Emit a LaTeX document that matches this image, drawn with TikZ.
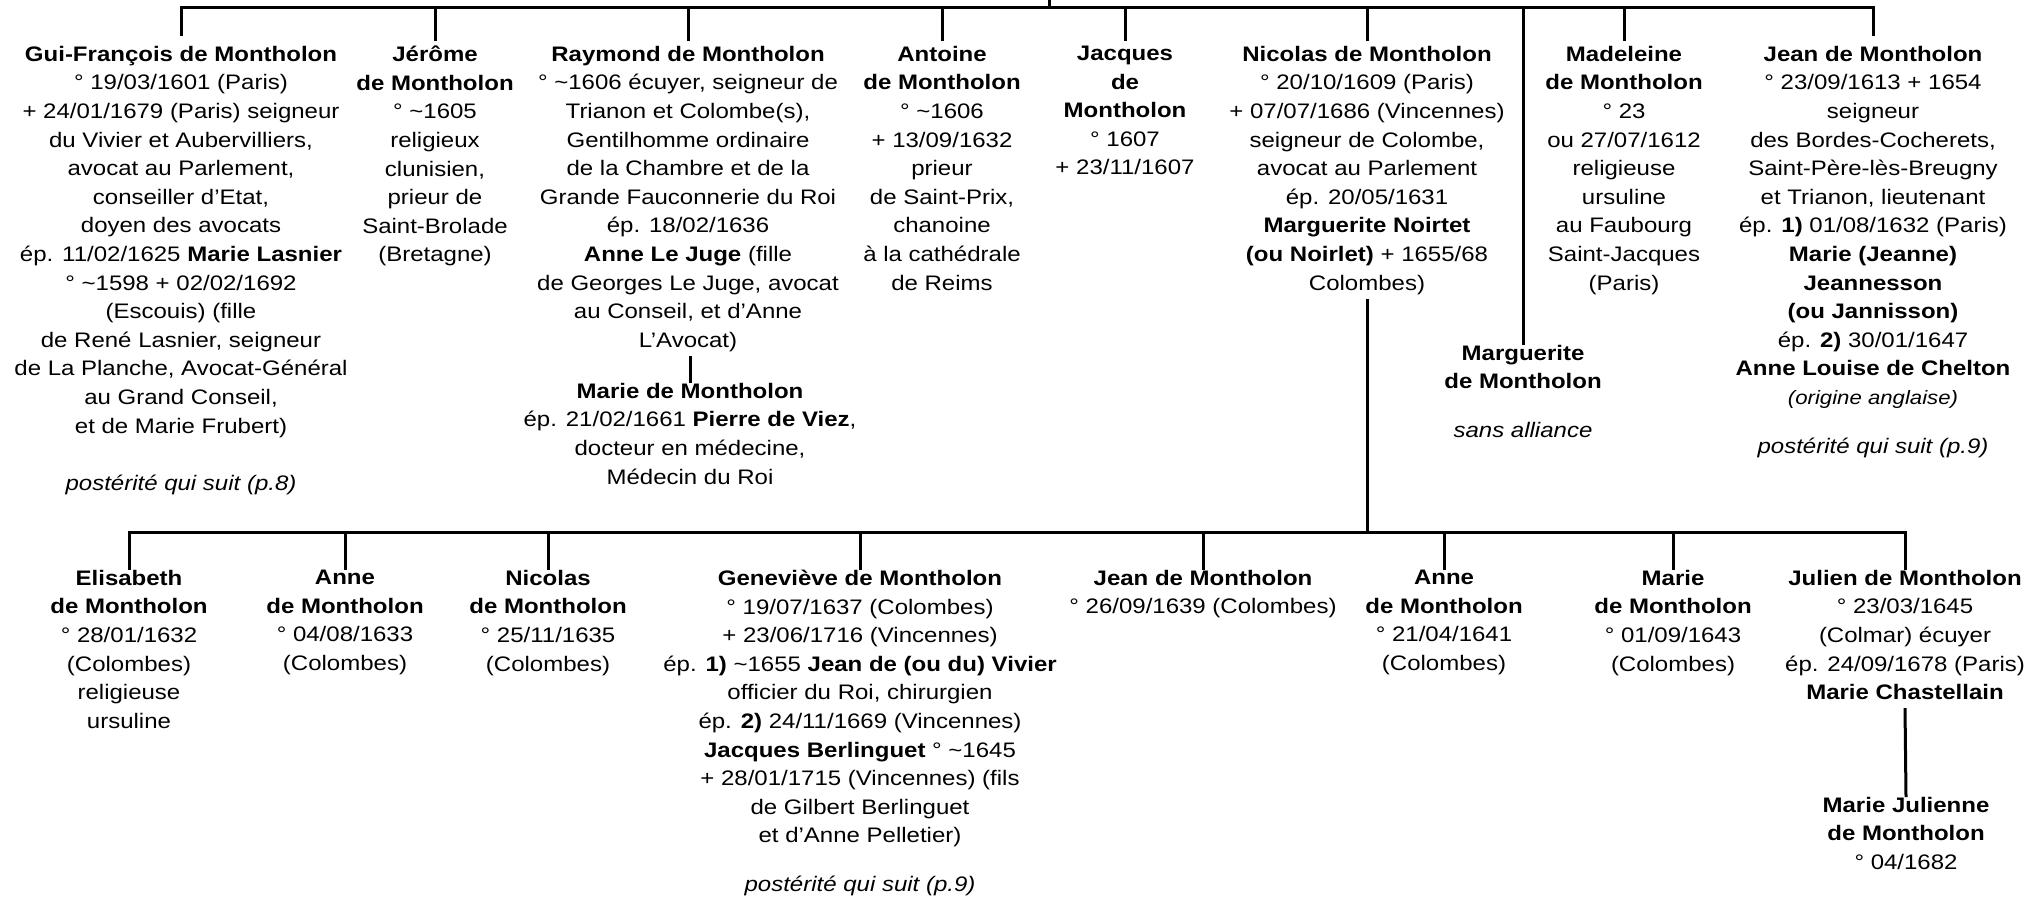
\documentclass[tikz,border=0pt]{standalone}
\usepackage{fontspec}
\setmainfont{Liberation Sans}[FakeStretch=1.143]
\usepackage{tikz}

\begin{document}
\begin{tikzpicture}[x=0.5pt, y=-0.5pt,
	person/.style={align=center, inner sep=0pt, outer sep=0pt, anchor=north,
		font=\fontsize{10.5}{14.3}\selectfont,
		execute at begin node=\strut, execute at end node=\strut},
	link/.style={line width=1.5pt}]
	\useasboundingbox (0,0) rectangle (2028,901);
	\coordinate (parents) at (1049,0);
	\coordinate (topbar) at (0,7);
	\coordinate (botbar) at (0,532);

	\node[person] (gui) at (181,46) {\textbf{Gui-François de Montholon}\\
		° 19/03/1601 (Paris)\\
		+ 24/01/1679 (Paris) seigneur\\
		du Vivier et Aubervilliers,\\
		avocat au Parlement,\\
		conseiller d’Etat,\\
		doyen des avocats\\
		ép. 11/02/1625 \textbf{Marie Lasnier}\\
		° \textasciitilde1598 + 02/02/1692\\
		(Escouis) (fille\\
		de René Lasnier, seigneur\\
		de La Planche, Avocat-Général\\
		au Grand Conseil,\\
		et de Marie Frubert)\\[14.5pt]
		\textit{postérité qui suit (p.8)}};
	\node[person] (jerome) at (435,46) {\textbf{Jérôme}\\ \textbf{de Montholon}\\
		° \textasciitilde1605\\ religieux\\ clunisien,\\ prieur de\\ Saint-Brolade\\ (Bretagne)};
	\node[person] (raymond) at (688,46) {\textbf{Raymond de Montholon}\\
		° \textasciitilde1606 écuyer, seigneur de\\
		Trianon et Colombe(s),\\
		Gentilhomme ordinaire\\
		de la Chambre et de la\\
		Grande Fauconnerie du Roi\\
		ép. 18/02/1636\\
		\textbf{Anne Le Juge} (fille\\
		de Georges Le Juge, avocat\\
		au Conseil, et d’Anne\\
		L’Avocat)};
	\node[person] (mariev) at (690,383) {\textbf{Marie de Montholon}\\
		ép. 21/02/1661 \textbf{Pierre de Viez},\\
		docteur en médecine,\\
		Médecin du Roi};
	\node[person] (antoine) at (942,46) {\textbf{Antoine}\\ \textbf{de Montholon}\\
		° \textasciitilde1606\\ + 13/09/1632\\ prieur\\ de Saint-Prix,\\ chanoine\\ à la cathédrale\\ de Reims};
	\node[person] (jacques) at (1125,46) {\textbf{Jacques}\\ \textbf{de}\\ \textbf{Montholon}\\
		° 1607\\ + 23/11/1607};
	\node[person] (nicolas) at (1367,46) {\textbf{Nicolas de Montholon}\\
		° 20/10/1609 (Paris)\\
		+ 07/07/1686 (Vincennes)\\
		seigneur de Colombe,\\
		avocat au Parlement\\
		ép. 20/05/1631\\
		\textbf{Marguerite Noirtet}\\
		\textbf{(ou Noirlet)} + 1655/68\\
		Colombes)};
	\node[person] (margot) at (1523,345) {\textbf{Marguerite}\\ \textbf{de Montholon}\\[10pt]
		\textit{sans alliance}};
	\node[person] (madeleine) at (1624,46) {\textbf{Madeleine}\\ \textbf{de Montholon}\\
		° 23\\ ou 27/07/1612\\ religieuse\\ ursuline\\ au Faubourg\\ Saint-Jacques\\ (Paris)};
	\node[person] (jean) at (1873,46) {\textbf{Jean de Montholon}\\
		° 23/09/1613 + 1654\\
		seigneur\\
		des Bordes-Cocherets,\\
		Saint-Père-lès-Breugny\\
		et Trianon, lieutenant\\
		ép. \textbf{1)} 01/08/1632 (Paris)\\
		\textbf{Marie (Jeanne)}\\
		\textbf{Jeannesson}\\
		\textbf{(ou Jannisson)}\\
		ép. \textbf{2)} 30/01/1647\\
		\textbf{Anne Louise de Chelton}\\
		{\fontsize{9.7}{14.3}\selectfont\itshape (origine anglaise)}\\[10pt]
		\textit{postérité qui suit (p.9)}};

	\node[person] (elisabeth) at (129,570) {\textbf{Elisabeth}\\ \textbf{de Montholon}\\
		° 28/01/1632\\ (Colombes)\\ religieuse\\ ursuline};
	\node[person] (anne) at (345,570) {\textbf{Anne}\\ \textbf{de Montholon}\\
		° 04/08/1633\\ (Colombes)};
	\node[person] (nicolasb) at (548,570) {\textbf{Nicolas}\\ \textbf{de Montholon}\\
		° 25/11/1635\\ (Colombes)};
	\node[person] (genevieve) at (860,570) {\textbf{Geneviève de Montholon}\\
		° 19/07/1637 (Colombes)\\
		+ 23/06/1716 (Vincennes)\\
		ép. \textbf{1)} \textasciitilde1655 \textbf{Jean de (ou du) Vivier}\\
		officier du Roi, chirurgien\\
		ép. \textbf{2)} 24/11/1669 (Vincennes)\\
		\textbf{Jacques Berlinguet} ° \textasciitilde1645\\
		+ 28/01/1715 (Vincennes) (fils\\
		de Gilbert Berlinguet\\
		et d’Anne Pelletier)\\[10pt]
		\textit{postérité qui suit (p.9)}};
	\node[person] (jeanb) at (1203,570) {\textbf{Jean de Montholon}\\ ° 26/09/1639 (Colombes)};
	\node[person] (anneb) at (1444,570) {\textbf{Anne}\\ \textbf{de Montholon}\\
		° 21/04/1641\\ (Colombes)};
	\node[person] (marieb) at (1673,570) {\textbf{Marie}\\ \textbf{de Montholon}\\
		° 01/09/1643\\ (Colombes)};
	\node[person] (julien) at (1905,570) {\textbf{Julien de Montholon}\\
		° 23/03/1645\\ (Colmar) écuyer\\ ép. 24/09/1678 (Paris)\\ \textbf{Marie Chastellain}};
	\node[person] (mariejul) at (1906,797) {\textbf{Marie Julienne}\\ \textbf{de Montholon}\\ ° 04/1682};

	\draw[link] (parents) -- (parents |- topbar);
	\draw[link, shorten <=2.5pt, shorten >=2.5pt] ([yshift=2.5pt]gui.north) -- (gui.north |- topbar) -- (jean.north |- topbar) -- ([yshift=2.5pt]jean.north);
	\foreach \n in {jerome,raymond,antoine,jacques,nicolas,madeleine}
		\draw[link, shorten <=2.5pt] (\n.north) -- (\n.north |- topbar);
	\draw[link] (margot.north) -- (margot.north |- topbar);
	\draw[link] (mariev.north) -- (mariev.north |- raymond.south);
	\draw[link] (nicolas.south) -- (nicolas.south |- botbar);
	\draw[link] (elisabeth.north) -- (elisabeth.north |- botbar) -- (julien.north |- botbar) -- (julien.north);
	\foreach \n in {anne,nicolasb,genevieve,jeanb,anneb,marieb}
		\draw[link] (\n.north) -- (\n.north |- botbar);
	\draw[link] (julien.south) -- (mariejul.north);
\end{tikzpicture}
\end{document}
